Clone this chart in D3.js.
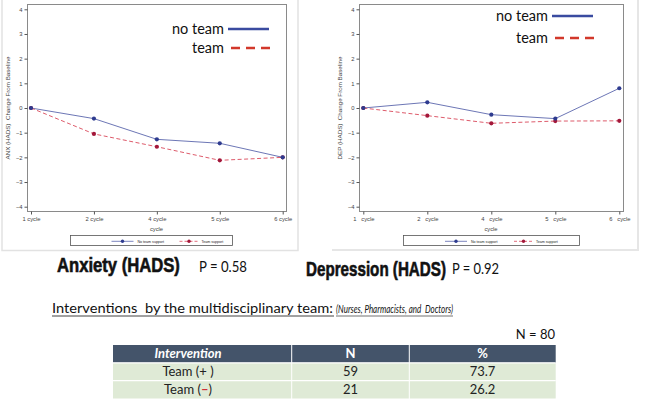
<!DOCTYPE html>
<html><head><meta charset="utf-8">
<script src="https://cdn.jsdelivr.net/npm/d3@7"></script>
<style>
html,body{margin:0;padding:0;background:#fff;}
svg{display:block;}
</style>
</head><body>
<script>
// ---- data ----
const categories = ["1 cycle", "2 cycle", "4 cycle", "5 cycle", "6 cycle"];
const anxNoTeam = [0, -0.43, -1.27, -1.43, -2.0];
const anxTeam = [0, -1.05, -1.57, -2.12, -2.0];
const depNoTeam = [0, 0.23, -0.27, -0.43, 0.80];
const depTeam = [0, -0.31, -0.62, -0.53, -0.52];
const yTicks = [-4, -3, -2, -1, 0, 1, 2, 3, 4];
const seriesNames = ["no team", "team"];
const smallLegendNames = ["No team support", "Team support"];
const tableHeader = ["Intervention", "N", "%"];
const tableLabels = ["Team (+ )", "Team (\u2013)"];
const tableN = [59, 21];
const tablePct = [73.7, 26.2];

const W = 668, H = 400;
const svg = d3.select("body").append("svg").attr("width", W).attr("height", H);

const C = {
  noTeamLine: "#5b66ad", noTeamMark: "#2e3b8f",
  teamLine: "#d9485a", teamMark: "#a3173a",
  bigBlue: "#3a4ba0", bigRed: "#d2382b",
  frame: "#8a8a8a", tick: "#555"
};
const sf = "'Liberation Sans', Arial, sans-serif";

// text fitted horizontally to a given width by scaling (keeps bbox honest)
function fitText(x, y, width, str, attrs) {
  const g = svg.append("g");
  const t = g.append("text").attr("x", 0).attr("y", 0).text(str);
  Object.entries(attrs).forEach(([k, v]) => t.attr(k, v));
  const w = t.node().getComputedTextLength();
  const s = width / w;
  g.attr("transform", `translate(${x},${y}) scale(${s},1)`);
  return t;
}

function panel(o) {
  const g = svg.append("g");
  const x = d3.scalePoint().domain(categories).range([o.x0, o.x1]);
  const y = d3.scaleLinear().domain([-4, 4]).range([206.7, 9.3]);

  g.append("rect").attr("x", o.fl + 0.5).attr("y", 4.5).attr("width", o.fr - o.fl).attr("height", 207)
    .attr("fill", "#fff").attr("stroke", C.frame).attr("stroke-width", 1);

  const ya = g.append("g").attr("transform", `translate(${o.fl + 0.5},0)`)
    .call(d3.axisLeft(y).tickValues(yTicks).tickSize(3).tickPadding(2).tickFormat(d3.format("d")));
  ya.select(".domain").remove();
  ya.selectAll("line").attr("stroke", C.tick);
  ya.selectAll("text").attr("font-size", 5.8).attr("fill", "#444").attr("font-family", sf);

  const xa = g.append("g").attr("transform", `translate(0,211.5)`)
    .call(d3.axisBottom(x).tickSize(3).tickPadding(2.5));
  xa.select(".domain").remove();
  xa.selectAll("line").attr("stroke", C.tick);
  xa.selectAll("text").attr("font-size", 5.8).attr("fill", "#444").attr("font-family", sf)
    .attr("xml:space", "preserve")
    .text(d => o.labelFmt ? o.labelFmt(d) : d);

  g.append("text").attr("x", (o.fl + o.fr) / 2).attr("y", 230.5).attr("text-anchor", "middle")
    .attr("font-size", 5.8).attr("fill", "#444").attr("font-family", sf).text("cycle");
  g.append("text").attr("transform", `translate(${o.ytx},108) rotate(-90)`).attr("text-anchor", "middle")
    .attr("font-size", 5.8).attr("fill", "#444").attr("font-family", sf)
    .attr("textLength", 103).attr("lengthAdjust", "spacingAndGlyphs")
    .attr("xml:space", "preserve").text(o.ytitle);

  const line = d3.line().x((d, i) => x(categories[i])).y(d => y(d));
  g.append("path").datum(o.noTeam).attr("d", line).attr("fill", "none").attr("stroke", C.noTeamLine).attr("stroke-width", 0.9);
  g.append("path").datum(o.team).attr("d", line).attr("fill", "none").attr("stroke", C.teamLine).attr("stroke-width", 0.9).attr("stroke-dasharray", "4,2.5");
  g.selectAll(".mt").data(o.team).join("circle").attr("cx", (d, i) => x(categories[i])).attr("cy", d => y(d)).attr("r", 2.1).attr("fill", C.teamMark);
  g.selectAll(".mn").data(o.noTeam).join("circle").attr("cx", (d, i) => x(categories[i])).attr("cy", d => y(d)).attr("r", 2.1).attr("fill", C.noTeamMark);

  const lf = "Lato, 'Open Sans', sans-serif";
  g.append("text").attr("x", o.lgx).attr("y", o.lgy1 + 5).attr("text-anchor", "end").attr("font-size", 14.5).attr("font-family", lf).attr("fill", "#111").text(seriesNames[0]);
  g.append("line").attr("x1", o.lgx + 4).attr("x2", o.lgx + 45).attr("y1", o.lgy1).attr("y2", o.lgy1).attr("stroke", C.bigBlue).attr("stroke-width", 2.6);
  g.append("text").attr("x", o.lgx).attr("y", o.lgy2 + 5).attr("text-anchor", "end").attr("font-size", 14.5).attr("font-family", lf).attr("fill", "#111").text(seriesNames[1]);
  g.append("line").attr("x1", o.lgx + 7).attr("x2", o.lgx + 48).attr("y1", o.lgy2).attr("y2", o.lgy2).attr("stroke", C.bigRed).attr("stroke-width", 2.6).attr("stroke-dasharray", "9,6");

  g.append("rect").attr("x", o.sb0 + 0.5).attr("y", 235.5).attr("width", o.sb1 - o.sb0).attr("height", 10).attr("fill", "#fff").attr("stroke", "#555").attr("stroke-width", 0.8);
  const sy = 241.3;
  g.append("line").attr("x1", o.s1).attr("x2", o.s1 + 22).attr("y1", sy).attr("y2", sy).attr("stroke", C.noTeamLine).attr("stroke-width", 0.8);
  g.append("circle").attr("cx", o.s1 + 11).attr("cy", sy).attr("r", 1.7).attr("fill", C.noTeamMark);
  g.append("text").attr("x", o.s1 + 26).attr("y", sy + 1.3).attr("font-size", 3.6).attr("font-family", sf).attr("fill", "#222").text(smallLegendNames[0]);
  g.append("line").attr("x1", o.s2).attr("x2", o.s2 + 19).attr("y1", sy).attr("y2", sy).attr("stroke", C.teamLine).attr("stroke-width", 0.8).attr("stroke-dasharray", "3,2");
  g.append("circle").attr("cx", o.s2 + 9.5).attr("cy", sy).attr("r", 1.7).attr("fill", C.teamMark);
  g.append("text").attr("x", o.s2 + 22).attr("y", sy + 1.3).attr("font-size", 3.6).attr("font-family", sf).attr("fill", "#222").text(smallLegendNames[1]);
}

svg.append("path").attr("d", "M2,-2V250.5H298V-2").attr("fill", "none").attr("stroke", "#e2e2e2").attr("stroke-width", 1.5);
svg.append("path").attr("d", "M332,250H638V-2").attr("fill", "none").attr("stroke", "#e6e6e6").attr("stroke-width", 2);

panel({ x0: 31, x1: 282.7, fl: 27, fr: 286, ytx: 9.5, ytitle: "ANX (HADS)  Change From Baseline",
  noTeam: anxNoTeam, team: anxTeam, lgx: 224, lgy1: 29, lgy2: 48,
  sb0: 70, sb1: 232, s1: 111.5, s2: 179.5 });
panel({ x0: 363.3, x1: 619.3, fl: 359, fr: 623, ytx: 341.5, ytitle: "DEP (HADS)  Change From Baseline",
  noTeam: depNoTeam, team: depTeam, lgx: 548, lgy1: 16, lgy2: 38,
  sb0: 403, sb1: 579, s1: 445, s2: 514,
  labelFmt: d => d.replace(" ", "   ") });

// titles
const titleAttrs = { "font-size": 20, "font-weight": "bold", "font-family": sf, fill: "#111", stroke: "#111", "stroke-width": 0.6 };
const pAttrs = { "font-size": 15, "font-family": "Lato, sans-serif", fill: "#111" };
fitText(57, 272, 123, "Anxiety (HADS)", titleAttrs);
fitText(199, 272, 48, "P = 0.58", pAttrs);
fitText(306, 275.5, 140, "Depression (HADS)", titleAttrs);
fitText(452, 274, 47, "P = 0.92", pAttrs);

// interventions heading
fitText(52, 313, 281, "Interventions\u00a0 by the multidisciplinary team:", { "font-size": 14, "font-family": "Lato, sans-serif", fill: "#111" });
fitText(336, 313, 117, "(Nurses, Pharmacists, and\u00a0 Doctors)", { "font-size": 11, "font-style": "italic", "font-family": "Lato, sans-serif", fill: "#111" });
svg.append("line").attr("x1", 52).attr("x2", 334).attr("y1", 316).attr("y2", 316).attr("stroke", "#111").attr("stroke-width", 0.8);
svg.append("line").attr("x1", 336).attr("x2", 453).attr("y1", 316).attr("y2", 316).attr("stroke", "#111").attr("stroke-width", 0.6);

svg.append("text").attr("x", 555).attr("y", 339).attr("text-anchor", "end").attr("font-size", 13).attr("font-family", "Lato, sans-serif").attr("fill", "#111").text("N = 80");

// table
const colEdges = [113, 291.7, 409.3, 555.7];
const colText = [188, 350.5, 482.5];
const rowY = d3.scaleBand().domain(d3.range(tableLabels.length + 1)).range([345, 398.5]).paddingInner(0);
const tg = svg.append("g");
tg.append("rect").attr("x", colEdges[0]).attr("y", rowY(0)).attr("width", colEdges[3] - colEdges[0]).attr("height", rowY.bandwidth()).attr("fill", "#44546a");
tableLabels.forEach((lab, i) => {
  tg.append("rect").attr("x", colEdges[0]).attr("y", rowY(i + 1)).attr("width", colEdges[3] - colEdges[0]).attr("height", rowY.bandwidth()).attr("fill", "#dfead6");
});
[1, 2].forEach(k => tg.append("line").attr("x1", colEdges[k]).attr("x2", colEdges[k]).attr("y1", rowY(0)).attr("y2", 400).attr("stroke", "#fff").attr("stroke-width", 1));
d3.range(1, tableLabels.length + 1).forEach(r => tg.append("line").attr("x1", colEdges[0]).attr("x2", colEdges[3]).attr("y1", rowY(r)).attr("y2", rowY(r)).attr("stroke", "#fff").attr("stroke-width", 1.2));
tableHeader.forEach((h, j) => {
  tg.append("text").attr("x", colText[j]).attr("y", rowY(0) + rowY.bandwidth() / 2 + 4.5).attr("text-anchor", "middle")
    .attr("font-size", 13).attr("font-weight", "bold").attr("font-style", j === 0 ? "italic" : "normal")
    .attr("font-family", "Lato, sans-serif").attr("fill", "#fff").text(h);
});
tableLabels.forEach((lab, i) => {
  const cy = rowY(i + 1) + rowY.bandwidth() / 2 + 4.5;
  const t = tg.append("text").attr("x", colText[0]).attr("y", cy).attr("text-anchor", "middle").attr("font-size", 13)
    .attr("font-family", "Lato, sans-serif").attr("fill", "#222");
  if (lab.includes("\u2013")) {
    const parts = lab.split("\u2013");
    t.append("tspan").text(parts[0]);
    t.append("tspan").attr("fill", "#d0303a").attr("font-weight", "bold").text("\u2013");
    t.append("tspan").text(parts[1]);
  } else t.text(lab);
  tg.append("text").attr("x", colText[1]).attr("y", cy).attr("text-anchor", "middle").attr("font-size", 13).attr("font-family", "Lato, sans-serif").attr("fill", "#222").text(tableN[i]);
  tg.append("text").attr("x", colText[2]).attr("y", cy).attr("text-anchor", "middle").attr("font-size", 13).attr("font-family", "Lato, sans-serif").attr("fill", "#222").text(d3.format(".1f")(tablePct[i]));
});
</script>
</body></html>
